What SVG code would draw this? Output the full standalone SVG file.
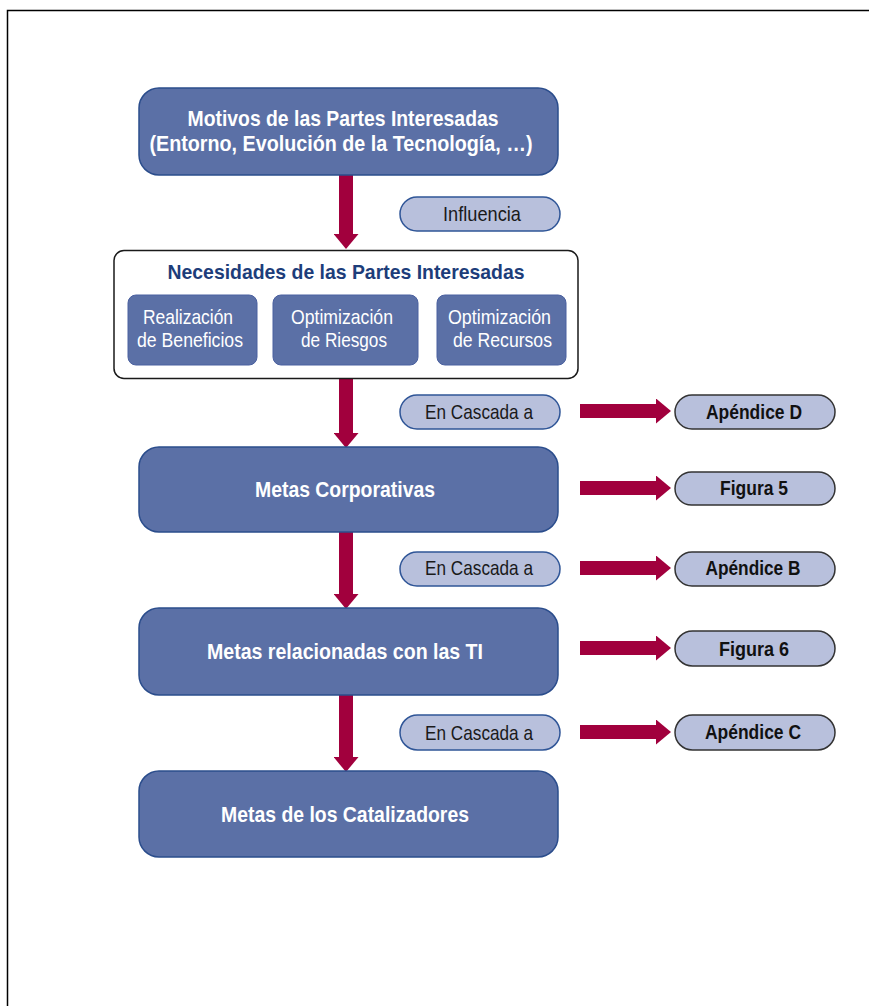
<svg xmlns="http://www.w3.org/2000/svg" width="869" height="1006" viewBox="0 0 869 1006">
<style>
text{font-family:"Liberation Sans Narrow","Liberation Sans",Arial,sans-serif;text-anchor:middle}
.box{fill:#5b70a6;stroke:#2b4d8c;stroke-width:1.5}
.sub{fill:#5b70a6;stroke:#4a60a0;stroke-width:1}
.bt{fill:#ffffff;font-weight:bold;font-size:22px}
.st{fill:#ffffff;font-size:21px}
.pl{fill:#b8c0dc;stroke:#2f5597;stroke-width:1.5}
.pr{fill:#b8c0dc;stroke:#333333;stroke-width:1.5}
.plt{fill:#1a1a1a;font-size:21px}
.prt{fill:#111111;font-size:21px;font-weight:bold}
.arr{stroke:#a1003d;stroke-width:14;fill:none;marker-end:url(#head)}
</style>
<defs>
<marker id="head" viewBox="0 0 15 25" refX="0" refY="12.5" markerWidth="15" markerHeight="25" markerUnits="userSpaceOnUse" orient="auto">
<path d="M0,0 L15,12.5 L0,25 Z" fill="#a1003d"/>
</marker>
</defs>
<rect x="0" y="0" width="869" height="1006" fill="#ffffff"/>
<path d="M7.5,1010 V10.5 H875" fill="none" stroke="#000000" stroke-width="1.5"/>

<g id="connectors">
<line class="arr" x1="346" y1="175" x2="346" y2="234"/>
<line class="arr" x1="346" y1="378" x2="346" y2="433"/>
<line class="arr" x1="346" y1="532" x2="346" y2="594"/>
<line class="arr" x1="346" y1="695" x2="346" y2="757"/>
<line class="arr" x1="580" y1="411" x2="656" y2="411"/>
<line class="arr" x1="580" y1="488" x2="656" y2="488"/>
<line class="arr" x1="580" y1="568" x2="656" y2="568"/>
<line class="arr" x1="580" y1="648" x2="656" y2="648"/>
<line class="arr" x1="580" y1="732" x2="656" y2="732"/>
</g>

<g id="motivos">
<rect class="box" x="139" y="88" width="419" height="87" rx="20"/>
<text class="bt" x="343" y="126" textLength="311" lengthAdjust="spacingAndGlyphs">Motivos de las Partes Interesadas</text>
<text class="bt" x="341" y="151" textLength="383" lengthAdjust="spacingAndGlyphs">(Entorno, Evolución de la Tecnología, …)</text>
</g>

<g id="influencia">
<rect class="pl" x="400" y="197" width="160" height="34" rx="17"/>
<text class="plt" x="482" y="221" textLength="78" lengthAdjust="spacingAndGlyphs">Influencia</text>
</g>

<g id="necesidades">
<rect x="114" y="250.5" width="464" height="128" rx="10" fill="#ffffff" stroke="#1a1a1a" stroke-width="1.5"/>
<text x="346" y="279" fill="#1d3d7a" font-weight="bold" font-size="21" textLength="357" lengthAdjust="spacingAndGlyphs">Necesidades de las Partes Interesadas</text>
</g>

<g id="beneficios">
<rect class="sub" x="128" y="295" width="129" height="70" rx="8"/>
<text class="st" x="188" y="324" textLength="90" lengthAdjust="spacingAndGlyphs">Realización</text>
<text class="st" x="190" y="347" textLength="106" lengthAdjust="spacingAndGlyphs">de Beneficios</text>
</g>

<g id="riesgos">
<rect class="sub" x="273" y="295" width="145" height="70" rx="8"/>
<text class="st" x="342" y="324" textLength="102" lengthAdjust="spacingAndGlyphs">Optimización</text>
<text class="st" x="344" y="347" textLength="86" lengthAdjust="spacingAndGlyphs">de Riesgos</text>
</g>

<g id="recursos">
<rect class="sub" x="437" y="295" width="129" height="70" rx="8"/>
<text class="st" x="499.5" y="324" textLength="103" lengthAdjust="spacingAndGlyphs">Optimización</text>
<text class="st" x="502.5" y="347" textLength="99" lengthAdjust="spacingAndGlyphs">de Recursos</text>
</g>

<g id="cascada1">
<rect class="pl" x="400" y="395" width="160" height="34" rx="17"/>
<text class="plt" x="479" y="419" textLength="108" lengthAdjust="spacingAndGlyphs">En Cascada a</text>
</g>

<g id="apendiceD">
<rect class="pr" x="675" y="395" width="160" height="34" rx="17"/>
<text class="prt" x="754" y="419" textLength="96" lengthAdjust="spacingAndGlyphs">Apéndice D</text>
</g>

<g id="corporativas">
<rect class="box" x="139" y="447" width="419" height="85" rx="20"/>
<text class="bt" x="345" y="497" textLength="180" lengthAdjust="spacingAndGlyphs">Metas Corporativas</text>
</g>

<g id="figura5">
<rect class="pr" x="675" y="472" width="160" height="33" rx="16.5"/>
<text class="prt" x="754" y="495" textLength="68" lengthAdjust="spacingAndGlyphs">Figura 5</text>
</g>

<g id="cascada2">
<rect class="pl" x="400" y="552" width="160" height="34" rx="17"/>
<text class="plt" x="479" y="575" textLength="108" lengthAdjust="spacingAndGlyphs">En Cascada a</text>
</g>

<g id="apendiceB">
<rect class="pr" x="675" y="552" width="160" height="34" rx="17"/>
<text class="prt" x="753" y="575" textLength="95" lengthAdjust="spacingAndGlyphs">Apéndice B</text>
</g>

<g id="metasTI">
<rect class="box" x="139" y="608" width="419" height="87" rx="20"/>
<text class="bt" x="345" y="659" textLength="276" lengthAdjust="spacingAndGlyphs">Metas relacionadas con las TI</text>
</g>

<g id="figura6">
<rect class="pr" x="675" y="631" width="160" height="35" rx="17.5"/>
<text class="prt" x="754" y="656" textLength="70" lengthAdjust="spacingAndGlyphs">Figura 6</text>
</g>

<g id="cascada3">
<rect class="pl" x="400" y="715" width="160" height="35" rx="17.5"/>
<text class="plt" x="479" y="740" textLength="108" lengthAdjust="spacingAndGlyphs">En Cascada a</text>
</g>

<g id="apendiceC">
<rect class="pr" x="675" y="715" width="160" height="35" rx="17.5"/>
<text class="prt" x="753" y="739" textLength="96" lengthAdjust="spacingAndGlyphs">Apéndice C</text>
</g>

<g id="catalizadores">
<rect class="box" x="139" y="771" width="419" height="86" rx="20"/>
<text class="bt" x="345" y="822" textLength="248" lengthAdjust="spacingAndGlyphs">Metas de los Catalizadores</text>
</g>
</svg>
